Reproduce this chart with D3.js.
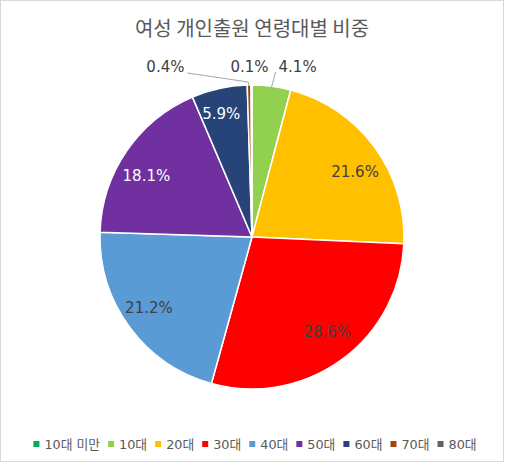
<!DOCTYPE html>
<html><head><meta charset="utf-8">
<script src="https://cdn.jsdelivr.net/npm/d3@7"></script>
<style>
html,body{margin:0;padding:0;background:#fff;}
svg{display:block;}
text{font-family:"DejaVu Sans","Noto Sans CJK KR",sans-serif;}
</style></head>
<body>
<svg id="chart" width="506" height="464"></svg>
<script>
const title = "여성 개인출원 연령대별 비중";
const categories = ["10대 미만","10대","20대","30대","40대","50대","60대","70대","80대"];
const values = [0.0, 4.1, 21.6, 28.6, 21.2, 18.1, 5.9, 0.4, 0.1];
const colors = ["#00B050","#92D050","#FFC000","#FF0000","#5B9BD5","#7030A0","#264478","#9E480E","#636363"];
const labelColors = ["#404040","#404040","#404040","#404040","#404040","#ffffff","#ffffff","#404040","#404040"];

const W = 506, H = 464;
const svg = d3.select("#chart");
svg.append("rect").attr("x",0.5).attr("y",0.5).attr("width",503).attr("height",461)
  .attr("fill","#fff").attr("stroke","#d9d9d9").attr("stroke-width",1);

svg.append("text").attr("x",252).attr("y",27).attr("text-anchor","middle")
  .attr("dominant-baseline","central").attr("font-size",20).attr("fill","#595959")
  .style("font-family","'Noto Sans CJK KR'").text(title);

const cx = 252, cy = 237, r = 152;
const data = categories.map((c,i)=>({cat:c, value:values[i], color:colors[i], lc:labelColors[i]}));
const pie = d3.pie().sort(null).value(d=>d.value);
const arcs = pie(data);
const arc = d3.arc().innerRadius(0).outerRadius(r);
const g = svg.append("g").attr("transform",`translate(${cx},${cy})`);
g.selectAll("path").data(arcs).join("path")
  .attr("d",arc).attr("fill",d=>d.data.color)
  .attr("stroke","#fff").attr("stroke-width",1.5).attr("stroke-linejoin","round");

const fmt = v => v.toFixed(1) + "%";
const mid = d => (d.startAngle + d.endAngle)/2;
const FS = 15;

// inside labels
const inside = arcs.filter(d=>d.data.value >= 5);
const rho = d => (d.data.value >= 10 ? 0.75 : 0.85) * r;
g.selectAll("text.in").data(inside).join("text").attr("class","in")
  .attr("x",d=>{const a=mid(d); return rho(d)*Math.sin(a) + 14*Math.sin(a);})
  .attr("y",d=>-rho(d)*Math.cos(mid(d)) + 3)
  .attr("text-anchor","middle").attr("dominant-baseline","central")
  .attr("font-size",FS).attr("fill",d=>d.data.lc).text(d=>fmt(d.data.value));

// outside labels (small slices)
const outside = arcs.filter(d=>d.data.value > 0 && d.data.value < 5);
const ly = -r - 18;
const byCat = {};
outside.forEach(d=>byCat[d.data.cat]=d);
function edgePt(d){const a=mid(d); return [r*Math.sin(a), -r*Math.cos(a)];}

// 80대 label centered above its slice
const dTop = byCat["80대"];
const tTop = g.append("text").attr("x", edgePt(dTop)[0]-2).attr("y",ly)
  .attr("text-anchor","middle").attr("dominant-baseline","central")
  .attr("font-size",FS).attr("fill","#404040").text(fmt(dTop.data.value));
const bTop = tTop.node().getBBox();

// 10대 label to the right
const dR = byCat["10대"];
const natR = (r+18)*Math.sin(mid(dR));
const xR = Math.max(natR, bTop.x + bTop.width + 10);
g.append("text").attr("x",xR).attr("y",ly).attr("text-anchor","start")
  .attr("dominant-baseline","central").attr("font-size",FS).attr("fill","#404040")
  .text(fmt(dR.data.value));
const pR = edgePt(dR);
g.append("line").attr("x1",xR-3).attr("y1",ly+5).attr("x2",pR[0]).attr("y2",pR[1]+1)
  .attr("stroke","#a6a6a6").attr("stroke-width",1);

// 70대 label to the left
const dL = byCat["70대"];
const xL = bTop.x - 46;
g.append("text").attr("x",xL).attr("y",ly).attr("text-anchor","end")
  .attr("dominant-baseline","central").attr("font-size",FS).attr("fill","#404040")
  .text(fmt(dL.data.value));
const pL = edgePt(dL);
g.append("polyline").attr("points",`${xL+3},${ly+6} ${pL[0]-1},${pL[1]-3} ${pL[0]},${pL[1]+1}`)
  .attr("fill","none").attr("stroke","#a6a6a6").attr("stroke-width",1);

// legend
const lg = svg.append("g");
let x = 0;
data.forEach(d=>{
  const it = lg.append("g");
  it.append("rect").attr("x",x).attr("y",-3).attr("width",6).attr("height",6).attr("fill",d.color);
  const t = it.append("text").attr("x",x+11).attr("y",0).attr("dominant-baseline","central")
    .attr("font-size",12.8).attr("fill","#595959").text(d.cat);
  x += 11 + t.node().getComputedTextLength() + 8;
});
const totalW = x - 8;
lg.attr("transform",`translate(${255 - totalW/2},444)`);
</script>
</body></html>
